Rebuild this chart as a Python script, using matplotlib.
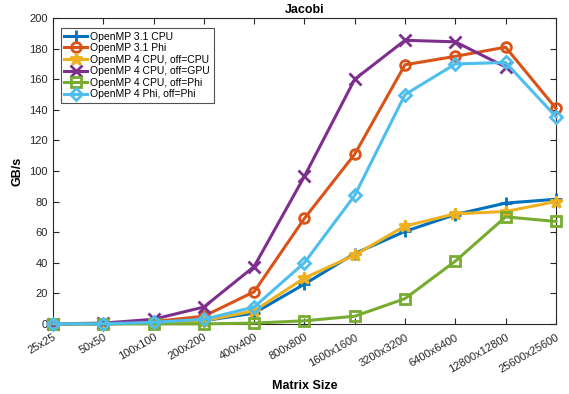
import numpy as np
import matplotlib.pyplot as plt

plt.rcParams['font.family'] = ['Liberation Sans', 'DejaVu Sans']

sizes = ["25x25", "50x50", "100x100", "200x200", "400x400", "800x800",
         "1600x1600", "3200x3200", "6400x6400", "12800x12800", "25600x25600"]

omp31_cpu = [0, 0, 0.5, 2, 7, 26, 46, 60.5, 71.5, 79, 81.5]
omp31_phi = [0, 0, 1.5, 5, 21, 69, 111, 169.5, 175, 181, 141]
omp4_cpu_cpu = [0, 0, 0.5, 2, 8.5, 30, 45, 64, 72, 73.5, 80]
omp4_cpu_gpu = [0, 0.5, 3, 11, 37.5, 96.5, 160, 185.5, 184.5, 168, np.nan]
omp4_cpu_phi = [0, 0, 0, 0, 0.5, 2, 5, 16.5, 41, 70, 67]
omp4_phi_phi = [0, 0, 1, 3, 11, 40, 84, 150, 170, 171, 135.5]

labels = ["OpenMP 3.1 CPU", "OpenMP 3.1 Phi", "OpenMP 4 CPU, off=CPU",
          "OpenMP 4 CPU, off=GPU", "OpenMP 4 CPU, off=Phi", "OpenMP 4 Phi, off=Phi"]
colors = ["#0072BD", "#D95319", "#EDB120", "#7E2F8E", "#77AC30", "#4DBEEE"]
markers = ["+", "o", "*", "x", "s", "D"]

fig = plt.figure(figsize=(5.69, 3.94), dpi=100)
ax = fig.add_axes([0.093, 0.178, 0.884, 0.776])

x = np.arange(len(sizes))
series = [omp31_cpu, omp31_phi, omp4_cpu_cpu, omp4_cpu_gpu, omp4_cpu_phi, omp4_phi_phi]
for ys, lab, c, m in zip(series, labels, colors, markers):
    ms = 9 if m in ("+", "*", "x") else 7
    if m == "D":
        ms = 6
    ax.plot(x, ys, color=c, marker=m, lw=2.2, ms=ms, mew=2,
            mfc="none", label=lab, clip_on=False, zorder=3)

ax.set_xlim(0, len(sizes) - 1)
ax.set_ylim(0, 200)
ax.set_yticks(np.arange(0, 201, 20))
ax.set_xticks(x)
ax.set_xticklabels(sizes, rotation=30, ha="right", rotation_mode="anchor")
ax.tick_params(direction="in", top=True, right=True, labelsize=8,
               colors="#262626", length=4)
ax.tick_params(axis="x", pad=6)
for sp in ax.spines.values():
    sp.set_color("#262626")
    sp.set_linewidth(0.8)

ax.set_title("Jacobi", fontsize=9, fontweight="bold", pad=4)
ax.set_xlabel("Matrix Size", fontsize=9, fontweight="bold")
ax.set_ylabel("GB/s", fontsize=9, fontweight="bold")

leg = ax.legend(loc="upper left", fontsize=7.5, frameon=True, fancybox=False,
                borderpad=0.35, labelspacing=0.15, handlelength=2.2,
                handletextpad=0.3, bbox_to_anchor=(0.005, 0.985))
leg.get_frame().set_edgecolor("#262626")
leg.get_frame().set_linewidth(0.8)
leg.set_zorder(5)

plt.savefig("out.png", dpi=100)
